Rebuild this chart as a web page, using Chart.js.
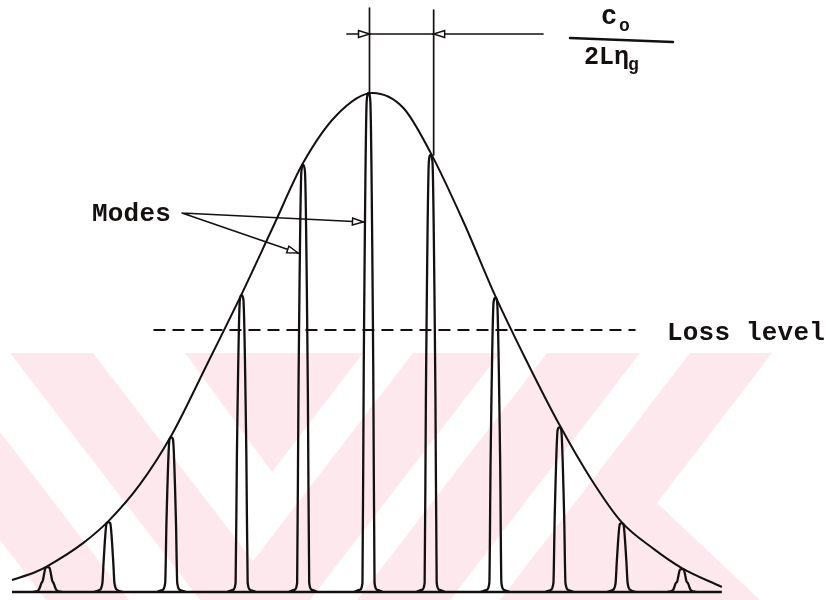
<!DOCTYPE html>
<html><head><meta charset="utf-8">
<script src="https://cdn.jsdelivr.net/npm/chart.js@4"></script>
<style>html,body{margin:0;padding:0;background:#fff;}</style>
</head><body>
<canvas id="c" width="832" height="600"></canvas>
<script>
// x in units of the mode spacing c0/(2L·ηg), y = relative gain (peak = 1)
const modePositions = [-5.06, -4.10, -3.11, -2.0, -1.03, 0, 0.98, 2.0, 3.01, 3.99, 4.94];
const modeHeights   = [0.05, 0.14, 0.31, 0.595, 0.856, 1.0, 0.876, 0.59, 0.33, 0.138, 0.046];
const gainX = [-5.62, -5.25, -5.06, -4.5, -4.1, -3.6, -3.11, -2.55, -2.0, -1.5, -1.03, -0.5, 0.06, 0.55, 0.98, 1.5, 2.0, 2.5, 3.01, 3.5, 3.99, 4.5, 4.94, 5.57];
const gainY = [0.024, 0.04, 0.052, 0.098, 0.142, 0.216, 0.313, 0.455, 0.597, 0.733, 0.86, 0.956, 1.0, 0.97, 0.88, 0.741, 0.593, 0.461, 0.335, 0.228, 0.14, 0.086, 0.048, 0.01];
const lossLevel = 0.525;
const lossFrom = -3.39, lossTo = 4.21;
const labels = { modes: 'Modes', loss: 'Loss level', num: 'c', numSub: 'o', den: '2Lη', denSub: 'g' };
// outline of one narrow mode line: [offset, fixed height, fraction of the mode's peak]
const modeShape = [[-0.23,0,0],[-0.14,0.004,0],[-0.095,0.018,0],[-0.075,0,0.45],[-0.028,0,0.985],[0,0,1],
                   [0.028,0,0.985],[0.075,0,0.45],[0.095,0.018,0],[0.14,0.004,0],[0.23,0,0]];

const ink = '#141010';
const datasets = [];
datasets.push({ data: gainX.map((x,i)=>({x, y: gainY[i]})), borderColor: ink, borderWidth: 2, cubicInterpolationMode: 'monotone' });
datasets.push({ data: [{x: gainX[0], y: 0}, {x: gainX[gainX.length-1], y: 0}], borderColor: ink, borderWidth: 2.6 });
modePositions.forEach((p, i) => {
  const h = modeHeights[i];
  datasets.push({ data: modeShape.map(([dx, f, fr]) => ({x: p + dx, y: f + fr*h})), borderColor: ink, borderWidth: 2.3, cubicInterpolationMode: 'monotone' });
});
datasets.push({ data: [{x: lossFrom, y: lossLevel}, {x: lossTo, y: lossLevel}], borderColor: ink, borderWidth: 2, borderDash: [12, 7] });
datasets.forEach(d => { d.pointRadius = 0; d.fill = false; d.clip = false; });

function arrowHead(ctx, tx, ty, fx, fy, len, half) {
  const a = Math.atan2(ty - fy, tx - fx);
  const bx = tx - len*Math.cos(a), by = ty - len*Math.sin(a);
  ctx.beginPath();
  ctx.moveTo(tx, ty);
  ctx.lineTo(bx + half*Math.sin(a), by - half*Math.cos(a));
  ctx.lineTo(bx - half*Math.sin(a), by + half*Math.cos(a));
  ctx.closePath();
  ctx.fillStyle = '#fff'; ctx.fill(); ctx.stroke();
}

const watermark = {
  id: 'watermark',
  beforeDraw(chart) {
    const ctx = chart.ctx;
    ctx.save();
    ctx.fillStyle = '#fff'; ctx.fillRect(0, 0, chart.width, chart.height);
    ctx.fillStyle = '#fde9ed';
    const polys = [
      [[10,353],[93,353],[253,561],[413,353],[500,353],[310,600],[200,600]],
      [[185,353],[363,353],[272,472]],
      [[0,432],[129,600],[46,600],[0,540]],
      [[547,353],[640,353],[450,600],[357,600]],
      [[690,353],[772,353],[657,503],[760,600],[500,600]]
    ];
    polys.forEach(p => { ctx.beginPath(); p.forEach(([x,y],k)=> k?ctx.lineTo(x,y):ctx.moveTo(x,y)); ctx.closePath(); ctx.fill(); });
    ctx.restore();
  }
};

const notes = {
  id: 'notes',
  afterDraw(chart) {
    const ctx = chart.ctx, xs = chart.scales.x, ys = chart.scales.y;
    ctx.save();
    ctx.strokeStyle = ink; ctx.fillStyle = ink; ctx.lineCap = 'round';
    // spacing marker
    const xA = xs.getPixelForValue(modePositions[5]) + 1;
    const xB = xs.getPixelForValue(modePositions[6]) + 3;
    const yArr = 34;
    ctx.lineWidth = 1.7;
    ctx.beginPath();
    ctx.moveTo(xA, 8); ctx.lineTo(xA, ys.getPixelForValue(modeHeights[5]));
    ctx.moveTo(xB, 10); ctx.lineTo(xB, ys.getPixelForValue(modeHeights[6]));
    ctx.moveTo(347, yArr); ctx.lineTo(543, yArr);
    ctx.stroke();
    ctx.lineWidth = 1.5;
    arrowHead(ctx, xA, yArr, xA - 20, yArr, 11, 3.5);
    arrowHead(ctx, xB, yArr, xB + 20, yArr, 11, 3.5);
    // fraction
    ctx.fillStyle = ink;
    ctx.textBaseline = 'alphabetic';
    ctx.font = 'bold 27px "Liberation Mono"';
    ctx.fillText(labels.num, 601, 24);
    ctx.font = 'bold 18px "Liberation Mono"';
    ctx.fillText(labels.numSub, 619, 31);
    ctx.lineWidth = 2.5;
    ctx.beginPath(); ctx.moveTo(570, 38); ctx.lineTo(673, 42); ctx.stroke();
    ctx.font = 'bold 25px "Liberation Mono"';
    ctx.fillText(labels.den, 584, 64);
    const dw = ctx.measureText(labels.den).width;
    ctx.font = 'bold 18px "Liberation Mono"';
    ctx.fillText(labels.denSub, 584 + dw - 1, 70);
    // Modes label + loss label
    ctx.font = 'bold 26px "Liberation Mono"';
    ctx.letterSpacing = '0.2px';
    ctx.fillText(labels.modes, 92, 221);
    ctx.fillText(labels.loss, 667, 340);
    ctx.letterSpacing = '0px';
    ctx.lineWidth = 1.5;
    const sx = 182, sy = 213;
    const t1x = xs.getPixelForValue(modePositions[4]) - 5, t1y = 253;
    const t2x = xs.getPixelForValue(modePositions[5]) - 5, t2y = 222;
    ctx.beginPath(); ctx.moveTo(sx, sy); ctx.lineTo(t1x, t1y); ctx.moveTo(sx, sy); ctx.lineTo(t2x, t2y); ctx.stroke();
    arrowHead(ctx, t1x, t1y, sx, sy, 11, 3.5);
    arrowHead(ctx, t2x, t2y, sx, sy, 11, 3.5);
    ctx.restore();
  }
};

new Chart(document.getElementById('c'), {
  type: 'line',
  data: { datasets },
  options: {
    responsive: false, animation: false, devicePixelRatio: 1,
    layout: { padding: { left: 12, right: 107, top: 93, bottom: 8 } },
    scales: {
      x: { type: 'linear', min: -5.62, max: 5.62, display: false },
      y: { min: 0, max: 1, display: false }
    },
    plugins: { legend: { display: false }, tooltip: { enabled: false } }
  },
  plugins: [watermark, notes]
});
</script>
</body></html>
